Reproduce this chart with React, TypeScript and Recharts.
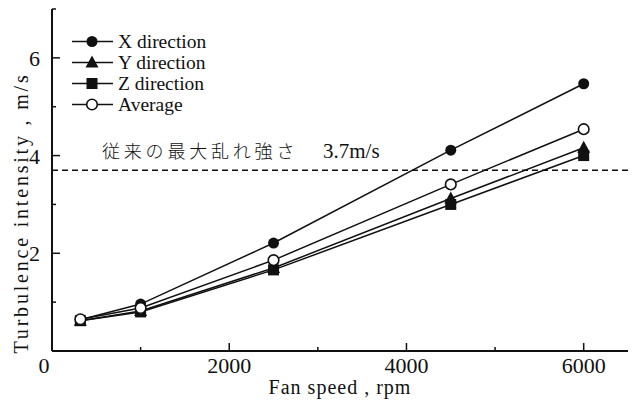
import { LineChart, Line, XAxis, YAxis, ReferenceLine, Legend } from 'recharts';

// fan speed (rpm) and turbulence intensity (m/s)
const rpm = [320, 1000, 2500, 4500, 6000];
const xDir = [0.64, 0.96, 2.21, 4.11, 5.47];
const yDir = [0.62, 0.82, 1.7, 3.12, 4.16];
const zDir = [0.62, 0.8, 1.66, 3.0, 4.0];
const avg = [0.65, 0.88, 1.86, 3.41, 4.54];

const xTicks = [0, 1000, 2000, 3000, 4000, 5000, 6000];
const yTicks = [1, 2, 3, 4, 5, 6, 7];
const prevMax = 3.7;
const prevLabel = '従来の最大乱れ強さ';
const prevValue = '3.7m/s';

const data = rpm.map((r, i) => ({ rpm: r, x: xDir[i], y: yDir[i], z: zDir[i], avg: avg[i] }));

const FONT = '"Times New Roman", "Liberation Serif", "DejaVu Serif", serif';
const INK = '#111';

type Shape = 'circle' | 'triangle' | 'square' | 'open';

function marker(shape: Shape, cx: number, cy: number, key?: string | number) {
  if (shape === 'circle') return <circle key={key} cx={cx} cy={cy} r={5.5} fill={INK} />;
  if (shape === 'open')
    return <circle key={key} cx={cx} cy={cy} r={5.3} fill="#fff" stroke={INK} strokeWidth={1.6} />;
  if (shape === 'square') return <rect key={key} x={cx - 5.5} y={cy - 5.5} width={11} height={11} fill={INK} />;
  return (
    <polygon
      key={key}
      points={`${cx},${cy - 7} ${cx - 6.5},${cy + 5} ${cx + 6.5},${cy + 5}`}
      fill={INK}
    />
  );
}

const series: { key: string; name: string; shape: Shape }[] = [
  { key: 'x', name: 'X direction', shape: 'circle' },
  { key: 'y', name: 'Y direction', shape: 'triangle' },
  { key: 'z', name: 'Z direction', shape: 'square' },
  { key: 'avg', name: 'Average', shape: 'open' },
];

const textStyle = { fontFamily: FONT };

function BottomTick({ x, y, payload }: any) {
  const v = payload.value;
  const major = v % 2000 === 0;
  return (
    <g>
      <line x1={x} y1={y} x2={x} y2={y - (major ? 8 : 4)} stroke={INK} strokeWidth={1.5} />
      {major && (
        <text x={v === 0 ? x - 8 : x} y={y + 22} textAnchor="middle" style={textStyle} fontSize={22} fill={INK}>
          {v}
        </text>
      )}
    </g>
  );
}

function TopTick({ x, y, payload }: any) {
  const major = payload.value % 2000 === 0;
  return <line x1={x} y1={y} x2={x} y2={y + (major ? 8 : 4)} stroke={INK} strokeWidth={1.5} />;
}

function LeftTick({ x, y, payload }: any) {
  const v = payload.value;
  const major = v % 2 === 0;
  return (
    <g>
      <line x1={x} y1={y} x2={x + (major ? 8 : 4)} y2={y} stroke={INK} strokeWidth={1.5} />
      {major && (
        <text x={x - 12} y={y + 8} textAnchor="end" style={textStyle} fontSize={22} fill={INK}>
          {v}
        </text>
      )}
    </g>
  );
}

function RightTick({ x, y, payload }: any) {
  const major = payload.value % 2 === 0;
  return <line x1={x} y1={y} x2={x - (major ? 8 : 4)} y2={y} stroke={INK} strokeWidth={1.5} />;
}

function LegendBox() {
  return (
    <div style={{ fontFamily: FONT, fontSize: 19.5, color: INK }}>
      {series.map((s) => (
        <div key={s.key} style={{ display: 'flex', alignItems: 'center', height: 21 }}>
          <svg width={46} height={21}>
            <line x1={0} y1={10.5} x2={41} y2={10.5} stroke={INK} strokeWidth={1.5} />
            {marker(s.shape, 20, 10.5)}
          </svg>
          <span style={{ lineHeight: '21px' }}>{s.name}</span>
        </div>
      ))}
    </div>
  );
}

function PrevLabel({ viewBox }: any) {
  const { x, y } = viewBox;
  return (
    <g>
      <text
        x={x + 50}
        y={y - 12}
        style={{ fontFamily: '"Noto Sans CJK JP", sans-serif' }}
        fontWeight={300}
        fontSize={18}
        letterSpacing={3.8}
        fill={INK}
      >
        {prevLabel}
      </text>
      <text x={x + 271} y={y - 12} style={textStyle} fontSize={21} fill={INK}>
        {prevValue}
      </text>
    </g>
  );
}

export default function App() {
  return (
    <div style={{ position: 'absolute', left: 0, top: 0, width: 634, height: 406, background: '#fff' }}>
      <LineChart width={634} height={406} data={data} margin={{ top: 9, right: 6, bottom: 0, left: 0 }}>
        <XAxis
          dataKey="rpm"
          type="number"
          domain={[0, 6500]}
          ticks={xTicks}
          interval={0}
          tickSize={0}
          tickMargin={0}
          height={55}
          tick={<BottomTick />}
          axisLine={{ stroke: INK, strokeWidth: 2 }}
          label={{ value: 'Fan speed , rpm', position: 'insideBottom', offset: 12, style: textStyle, fontSize: 20, letterSpacing: 1, fill: INK }}
        />
        <XAxis
          xAxisId="top"
          orientation="top"
          type="number"
          domain={[0, 6500]}
          allowDataOverflow
          ticks={xTicks}
          interval={0}
          tickSize={0}
          height={0}
          tick={<TopTick />}
          axisLine={{ stroke: INK, strokeWidth: 2 }}
        />
        <YAxis
          type="number"
          domain={[0, 7]}
          ticks={yTicks}
          interval={0}
          tickSize={0}
          tickMargin={0}
          width={52}
          tick={<LeftTick />}
          axisLine={{ stroke: INK, strokeWidth: 2 }}
          label={{
            content: () => (
              <text
                transform="rotate(-90 22 213)"
                x={22}
                y={219}
                textAnchor="middle"
                style={textStyle}
                fontSize={20}
                letterSpacing={2.8}
                fill={INK}
              >
                Turbulence intensity , m/s
              </text>
            ),
          }}
        />
        <YAxis
          yAxisId="right"
          orientation="right"
          type="number"
          domain={[0, 7]}
          allowDataOverflow
          ticks={yTicks}
          interval={0}
          tickSize={0}
          width={0}
          tick={<RightTick />}
          axisLine={{ stroke: INK, strokeWidth: 2 }}
        />
        <ReferenceLine y={prevMax} stroke={INK} strokeWidth={1.5} strokeDasharray="6 4" label={<PrevLabel />} />
        {series.map((s) => (
          <Line
            key={s.key}
            dataKey={s.key}
            name={s.name}
            stroke={INK}
            strokeWidth={1.5}
            isAnimationActive={false}
            dot={(p: any) => marker(s.shape, p.cx, p.cy, p.index)}
            activeDot={false}
          />
        ))}
        <Legend
          layout="horizontal"
          verticalAlign="middle"
          align="center"
          content={() => <LegendBox />}
          wrapperStyle={{ top: 30.5, left: 72, width: 200 }}
        />
      </LineChart>
    </div>
  );
}
